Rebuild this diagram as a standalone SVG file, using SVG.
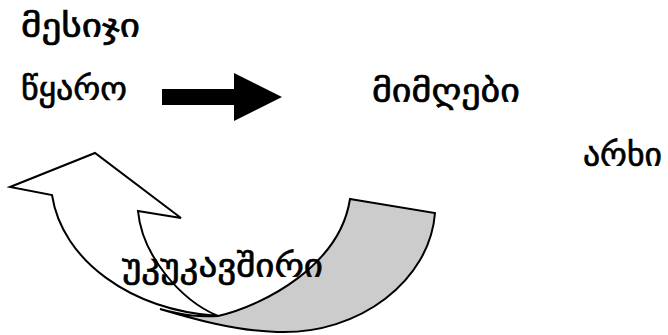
<svg xmlns="http://www.w3.org/2000/svg" width="668" height="335" viewBox="0 0 668 335">
  <style>
    .lbl { font-family: "DejaVu Sans", sans-serif; font-size: 33px; fill: #000; stroke: #000; stroke-width: 0.7; }
    .edge { stroke: #000; stroke-width: 2; stroke-linejoin: miter; }
  </style>
  <rect width="668" height="335" fill="#fff"/>

  <g id="connectors">
    <!-- block arrow from source to receiver -->
    <polygon id="flow-arrow" points="162,89 234,89 234,73 282,97 234,121 234,105 162,105" fill="#000"/>
    <!-- feedback ribbon: shaded back side -->
    <path id="feedback-back" class="edge" fill="#cccccc"
          d="M350,199 L435,213 C430,280 360,335 277,332 C235,331 190,318 160,309 C185,316 200,317 218,316 C265,305 340,265 350,199 Z"/>
    <!-- feedback ribbon: front side with arrowhead -->
    <path id="feedback-front" class="edge" fill="#fff"
          d="M138,211 L181,218 L95,153 L10,187 L52,195 C62,260 130,310 218,316 C180,300 142,255 138,211 Z"/>
  </g>

  <g id="message"><text class="lbl" x="21" y="37" textLength="119" lengthAdjust="spacingAndGlyphs">მესიჯი</text></g>
  <g id="source"><text class="lbl" x="21" y="100" textLength="106" lengthAdjust="spacingAndGlyphs">წყარო</text></g>
  <g id="receiver"><text class="lbl" x="372" y="102" textLength="148" lengthAdjust="spacingAndGlyphs">მიმღები</text></g>
  <g id="channel"><text class="lbl" x="583" y="166" textLength="79" lengthAdjust="spacingAndGlyphs">არხი</text></g>
  <g id="feedback"><text class="lbl" x="122" y="277" textLength="201" lengthAdjust="spacingAndGlyphs">უკუკავშირი</text></g>
</svg>
